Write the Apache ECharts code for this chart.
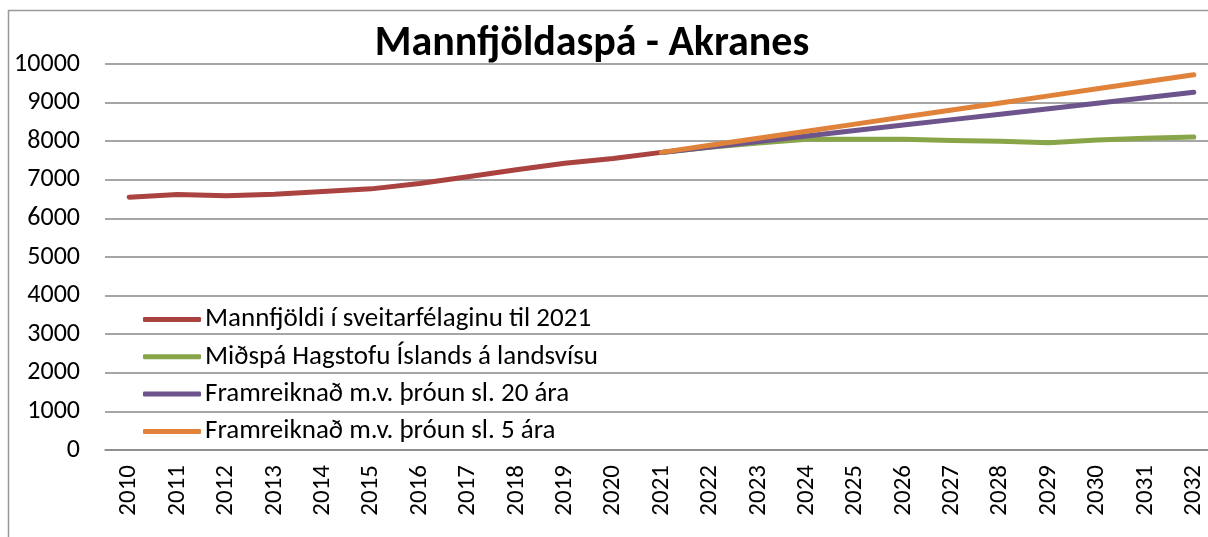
<!DOCTYPE html>
<html>
<head>
<meta charset="utf-8">
<title>Mannfjöldaspá - Akranes</title>
<script src="https://cdn.jsdelivr.net/npm/echarts@6/dist/echarts.min.js"></script>
<style>
  html, body { margin: 0; padding: 0; background: #fff; overflow: hidden; }
  /* chart is wider than the window: the right edge is cut off like in the original */
  #main { width: 1222px; height: 537px; }
</style>
</head>
<body>
<div id="main"></div>
<script>
// ár
var years = ['2010', '2011', '2012', '2013', '2014', '2015', '2016', '2017', '2018', '2019', '2020',
  '2021', '2022', '2023', '2024', '2025', '2026', '2027', '2028', '2029', '2030', '2031', '2032'];

// mannfjöldi 2010-2021
var mannfjoldi = [6550, 6620, 6590, 6625, 6700, 6765, 6905, 7080, 7260, 7430, 7550, 7710,
  null, null, null, null, null, null, null, null, null, null, null];

// spár frá 2021
var midspa = [null, null, null, null, null, null, null, null, null, null, null,
  7710, 7840, 7950, 8050, 8050, 8050, 8020, 8000, 7960, 8030, 8075, 8110];
var throun20 = [null, null, null, null, null, null, null, null, null, null, null,
  7710, 7852, 7993, 8135, 8276, 8418, 8559, 8701, 8842, 8984, 9125, 9267];
var throun5 = [null, null, null, null, null, null, null, null, null, null, null,
  7710, 7893, 8076, 8259, 8442, 8625, 8808, 8991, 9174, 9357, 9540, 9720];

var names = ['Mannfjöldi í sveitarfélaginu til 2021', 'Miðspá Hagstofu Íslands á landsvísu',
  'Framreiknað m.v. þróun sl. 20 ára', 'Framreiknað m.v. þróun sl. 5 ára'];
var colors = ['#AA4240', '#89A54A', '#6D548D', '#E0823A'];

var font = 'Carlito, Calibri, "Liberation Sans", sans-serif';

function line(name, data, color) {
  return {
    name: name,
    type: 'line',
    data: data,
    showSymbol: false,
    symbol: 'none',
    connectNulls: false,
    lineStyle: { color: color, width: 5, cap: 'round', join: 'round' },
    itemStyle: { color: color },
    emphasis: { disabled: true }
  };
}

var myChart = echarts.init(document.getElementById('main'));

myChart.setOption({
  animation: false,
  color: colors,
  title: {
    text: 'Mannfjöldaspá - Akranes',
    left: 587,
    textAlign: 'center',
    top: 18,
    textStyle: { fontFamily: font, fontSize: 42, fontWeight: 'bold', color: '#000' }
  },
  graphic: [{
    type: 'rect',
    shape: { x: 8.5, y: 10.5, width: 1400, height: 700 },
    style: { fill: null, stroke: '#999', lineWidth: 1.5 },
    silent: true
  }],
  legend: {
    orient: 'vertical',
    left: 138,
    top: 301,
    icon: 'roundRect',
    itemWidth: 58,
    itemHeight: 5,
    itemGap: 10.3,
    selectedMode: false,
    data: names,
    textStyle: { fontFamily: font, fontSize: 27, color: '#000', lineHeight: 26, padding: [0, 0, 0, -1] }
  },
  grid: { left: 105, top: 64, width: 1113, height: 386 },
  xAxis: {
    type: 'category',
    data: years,
    boundaryGap: true,
    axisLine: { lineStyle: { color: '#888', width: 1.5 } },
    axisTick: { show: false },
    axisLabel: { rotate: 90, margin: 15, fontFamily: font, fontSize: 25, color: '#000', interval: 0 }
  },
  yAxis: {
    type: 'value',
    min: 0,
    max: 10000,
    interval: 1000,
    axisLine: { show: false },
    axisTick: { show: false },
    splitLine: { lineStyle: { color: '#888', width: 1.5 } },
    axisLabel: {
      margin: 25, fontFamily: font, fontSize: 26, color: '#000',
      formatter: function (v) { return String(v); }
    }
  },
  series: [
    line(names[0], mannfjoldi, colors[0]),
    line(names[1], midspa, colors[1]),
    line(names[2], throun20, colors[2]),
    line(names[3], throun5, colors[3])
  ]
});
</script>
</body>
</html>
